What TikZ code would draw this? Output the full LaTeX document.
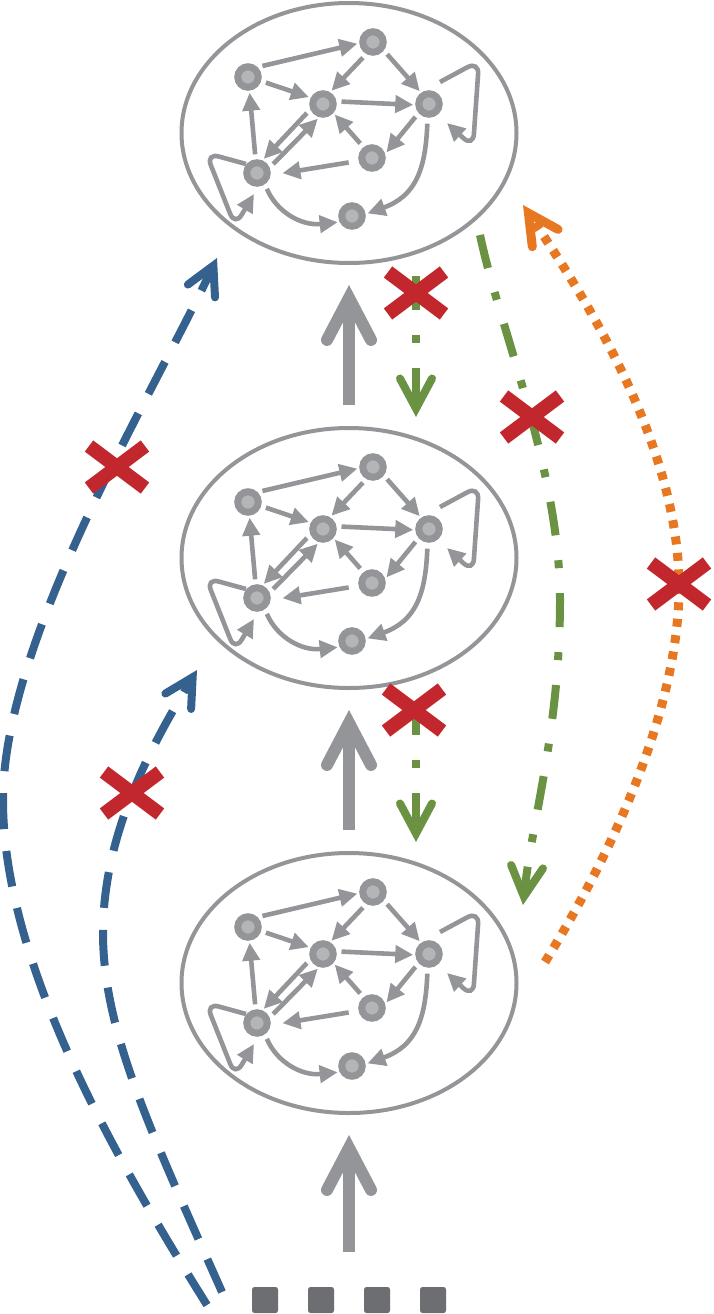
\documentclass[tikz,border=0pt]{standalone}
\usepackage{xcolor}
\usepackage{tikz}
\usetikzlibrary{arrows.meta, shapes.geometric}

\definecolor{diagray}{HTML}{939598}
\definecolor{dotgray}{HTML}{B4B5B7}
\definecolor{boxgray}{HTML}{6D6E71}
\definecolor{pathblue}{HTML}{35618F}
\definecolor{pathgreen}{HTML}{6B9242}
\definecolor{pathorange}{HTML}{E87722}
\definecolor{crossred}{HTML}{C1272D}

\tikzset{
  layer/.style={ellipse, draw=diagray, line width=4pt, minimum width=335pt, minimum height=260pt, inner sep=0pt},
  vertex/.style={circle, fill=dotgray, draw=diagray, line width=7pt, minimum size=20.5pt, inner sep=0pt},
  graphedge/.style={diagray, line width=4.6pt, -{Triangle[length=18pt, width=17pt]}, shorten <=5pt, shorten >=2pt},
  bigarrow/.style={diagray, line width=12pt, -{Straight Barb[length=42pt, width=44pt, line cap=round, line join=miter]}},
  blueline/.style={pathblue, line width=8pt, dash pattern=on 36pt off 22pt, -{Straight Barb[length=28pt, width=30pt, line cap=round, line join=miter]}},
  greenline/.style={pathgreen, line width=8pt, dash pattern=on 34pt off 25pt on 8pt off 25pt, -{Straight Barb[length=30pt, width=32pt, line cap=round, line join=miter]}},
  orangeline/.style={pathorange, line width=9pt, dash pattern=on 8pt off 8.5pt, -{Straight Barb[length=30pt, width=31pt, line cap=round, line join=miter]}},
  inbox/.style={rectangle, fill=boxgray, minimum size=26pt, inner sep=0pt, rounded corners=2.5pt},
  nogo/.pic={\draw[crossred, line width=14pt] (-28,-21) -- (28,21) (-28,21) -- (28,-21);}
}

\begin{document}
\begin{tikzpicture}[x=1pt, y=-1pt]
  \useasboundingbox (0,0) rectangle (713,1314);

  % the same graph in three layers
  \foreach \n/\cy in {1/133, 2/558, 3/983} {
    \begin{scope}[shift={(349,\cy)}]
      \node[layer] (ell\n) at (0,0) {};
      \node[vertex] (a\n) at (-101,-56) {};
      \node[vertex] (b\n) at (24,-91) {};
      \node[vertex] (c\n) at (-26,-29) {};
      \node[vertex] (d\n) at (80,-29) {};
      \node[vertex] (e\n) at (23,25) {};
      \node[vertex] (f\n) at (-92,40) {};
      \node[vertex] (g\n) at (3,83) {};
      \draw[graphedge] (a\n.46) -- (b\n.185);
      \draw[graphedge] (b\n.241) -- (c\n.59);
      \draw[graphedge] (b\n.322) -- (d\n.125);
      \draw[graphedge] (a\n.343) -- (c\n.153);
      \draw[graphedge] (c\n.11) -- (d\n.184);
      \draw[graphedge] (c\n.203) -- (f\n.67);
      \draw[graphedge] (f\n.23) -- (c\n.254);
      \draw[graphedge] (f\n.96) -- (a\n.276);
      \draw[graphedge] (e\n.128) -- (c\n.319);
      \draw[graphedge] (d\n.221) -- (e\n.17);
      \draw[graphedge, shorten <=10pt, shorten >=12pt] (e\n.192) -- (f\n.351);
      \draw[graphedge, shorten <=6pt] (d\n.264) .. controls +(-2,52) and +(50,-18) .. (g\n.8);
      \draw[graphedge] (f\n.305) .. controls +(12,28) and +(-38,4) .. (g\n.206);
      % self loops
      \draw[graphedge, rounded corners=13pt, shorten <=0pt, shorten >=0pt]
        ([shift={(11,-22)}]d\n.center) -- ([shift={(50,-43)}]d\n.center)
        -- ([shift={(44,43)}]d\n.center) -- ([shift={(18,19)}]d\n.center);
      \draw[graphedge, rounded corners=13pt, shorten <=0pt, shorten >=0pt]
        ([shift={(-11,-9)}]f\n.center) -- ([shift={(-51,-20)}]f\n.center)
        -- ([shift={(-22,53)}]f\n.center) -- ([shift={(-3,21)}]f\n.center);
    \end{scope}
  }

  % input row
  \foreach \i/\x in {1/265, 2/321, 3/377, 4/433}
    \node[inbox] (in\i) at (\x,1300) {};

  % forward passes
  \coordinate (inmid) at (349,1252);
  \draw[bigarrow] (inmid) -- ([yshift=-20pt]ell3.south);
  \draw[bigarrow] ([yshift=21pt]ell3.north) -- ([yshift=-20pt]ell2.south);
  \draw[bigarrow] ([yshift=21pt]ell2.north) -- ([yshift=-20pt]ell1.south);

  % skip links from the input
  \coordinate (bo1) at (207,1305);
  \coordinate (bo2) at (3,800);
  \coordinate (bo3) at (217,258);
  \draw[blueline] (bo1) .. controls (110,1150) and (3,960) .. (bo2)
    .. controls (3,640) and (150,400) .. (bo3);
  \coordinate (bi1) at (222,1292);
  \coordinate (bi2) at (103,933);
  \coordinate (bi3) at (197,670);
  \draw[blueline] (bi1) .. controls (150,1130) and (103,1030) .. (bi2)
    .. controls (103,830) and (155,740) .. (bi3);

  % backward links
  \coordinate (ga1) at (416,276);
  \coordinate (gb1) at (416,417);
  \coordinate (ga2) at (416,701);
  \coordinate (gb2) at (416,842);
  \draw[greenline] (ga1) -- (gb1);
  \draw[greenline] (ga2) -- (gb2);
  \coordinate (gl1) at (480,235);
  \coordinate (gl2) at (560,600);
  \coordinate (gl3) at (523,905);
  \draw[greenline] (gl1) .. controls (500,330) and (560,470) .. (gl2)
    .. controls (560,730) and (532,820) .. (gl3);

  \coordinate (or1) at (545,962);
  \coordinate (or2) at (679,584);
  \coordinate (or3) at (523,205);
  \draw[orangeline] (or1) .. controls (620,840) and (680,700) .. (or2)
    .. controls (678,440) and (580,290) .. (or3);

  % not allowed
  \pic at (416,293) {nogo};
  \pic at (414,710) {nogo};
  \pic at (532,417) {nogo};
  \pic at (117,467) {nogo};
  \pic at (132,793) {nogo};
  \pic at (679,584) {nogo};
\end{tikzpicture}
\end{document}
